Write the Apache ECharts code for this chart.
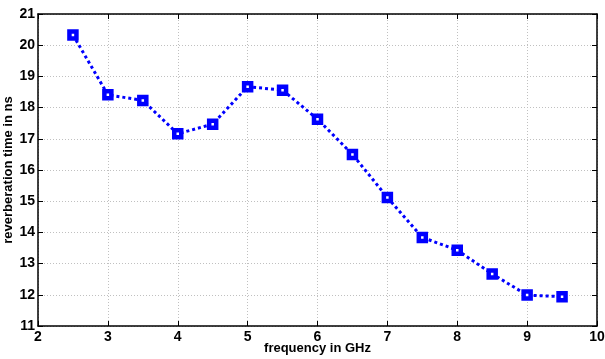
<!DOCTYPE html>
<html>
<head>
<meta charset="utf-8">
<script src="https://cdn.jsdelivr.net/npm/echarts@6/dist/echarts.min.js"></script>
<style>
  html, body { margin: 0; padding: 0; background: #fff; }
  #chart { width: 605px; height: 359px; }
</style>
</head>
<body>
<div id="chart"></div>
<script>
const frequencies = [2.5, 3, 3.5, 4, 4.5, 5, 5.5, 6, 6.5, 7, 7.5, 8, 8.5, 9, 9.5];
const reverbTimes = [20.33, 18.41, 18.23, 17.16, 17.47, 18.67, 18.56, 17.63, 16.5, 15.12, 13.84, 13.43, 12.67, 11.99, 11.94];

const FONT = "'Liberation Sans', Arial, sans-serif";
const AXIS_COLOR = "#000";
const GRID_COLOR = "#c0c0c0";

const chart = echarts.init(document.getElementById("chart"), null, { renderer: "canvas" });

const tickStyle = {
  show: true,
  inside: true,
  length: 5,
  lineStyle: { color: AXIS_COLOR, width: 1 },
};

chart.setOption({
  backgroundColor: "#fff",
  animation: false,
  grid: { left: 38, right: 8, top: 14, bottom: 33, containLabel: false, outerBoundsMode: "none" },
  xAxis: [
    {
      type: "value",
      min: 2,
      max: 10,
      interval: 1,
      name: "frequency in GHz",
      nameLocation: "middle",
      nameGap: 16,
      nameMoveOverlap: false,
      nameTextStyle: { fontFamily: FONT, fontWeight: "bold", fontSize: 13, color: "#000" },
      axisLine: { show: true, onZero: false, lineStyle: { color: AXIS_COLOR, width: 1.5 } },
      axisTick: tickStyle,
      axisLabel: { fontFamily: FONT, fontWeight: "bold", fontSize: 14, color: "#000", margin: 4 },
      splitLine: { show: true, lineStyle: { color: GRID_COLOR, type: [1, 2], width: 1 } },
    },
    {
      type: "value",
      position: "top",
      min: 2,
      max: 10,
      interval: 1,
      axisLine: { show: true, onZero: false, lineStyle: { color: AXIS_COLOR, width: 1.5 } },
      axisTick: tickStyle,
      axisLabel: { show: false },
      splitLine: { show: false },
    },
  ],
  yAxis: [
    {
      type: "value",
      min: 11,
      max: 21,
      interval: 1,
      name: "reverberation time in ns",
      nameLocation: "middle",
      nameGap: 23,
      nameMoveOverlap: false,
      nameTextStyle: { fontFamily: FONT, fontWeight: "bold", fontSize: 13, color: "#000" },
      axisLine: { show: true, onZero: false, lineStyle: { color: AXIS_COLOR, width: 1.5 } },
      axisTick: tickStyle,
      axisLabel: { fontFamily: FONT, fontWeight: "bold", fontSize: 14, color: "#000", margin: 3 },
      splitLine: { show: true, lineStyle: { color: GRID_COLOR, type: [1, 2], width: 1 } },
    },
    {
      type: "value",
      position: "right",
      min: 11,
      max: 21,
      interval: 1,
      axisLine: { show: true, onZero: false, lineStyle: { color: AXIS_COLOR, width: 1.5 } },
      axisTick: tickStyle,
      axisLabel: { show: false },
      splitLine: { show: false },
    },
  ],
  series: [
    {
      type: "line",
      data: frequencies.map((f, i) => [f, reverbTimes[i]]),
      xAxisIndex: 0,
      yAxisIndex: 0,
      symbol: "rect",
      symbolSize: 7,
      itemStyle: { color: "#fff", borderColor: "#0000ff", borderWidth: 4.5 },
      lineStyle: { color: "#0000ff", width: 3, type: [3, 3] },
    },
  ],
});
</script>
</body>
</html>
